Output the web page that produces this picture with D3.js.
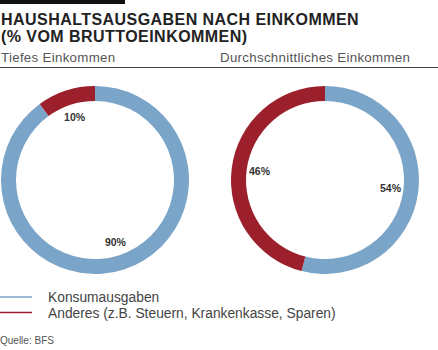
<!DOCTYPE html>
<html>
<head>
<meta charset="utf-8">
<script src="https://cdn.jsdelivr.net/npm/d3@7"></script>
<style>
  body { margin: 0; background: #fff; }
  svg text { font-family: "Liberation Sans", Arial, sans-serif; }
</style>
</head>
<body>
<div id="chart"></div>
<script>
// data
var charts = ["Tiefes Einkommen", "Durchschnittliches Einkommen"];
var categories = ["Konsumausgaben", "Anderes (z.B. Steuern, Krankenkasse, Sparen)"];
var konsum = [90, 54];
var anderes = [10, 46];
var colors = ["#7ba4c9", "#9c1f2c"];

var width = 438, height = 350;

var svg = d3.select("#chart").append("svg")
    .attr("width", width)
    .attr("height", height);

// black bar on top
svg.append("rect").attr("x", 0).attr("y", 0).attr("width", 125).attr("height", 4).attr("fill", "#111");

var title = svg.append("text")
    .attr("x", 1).attr("y", 25)
    .attr("font-size", 16).attr("font-weight", "bold").attr("fill", "#222")
    .attr("letter-spacing", 0.45);
title.append("tspan").attr("x", 1).text("HAUSHALTSAUSGABEN NACH EINKOMMEN");
title.append("tspan").attr("x", 1).attr("dy", 16.5).text("(% VOM BRUTTOEINKOMMEN)");

// panel x positions
var x = d3.scaleBand().domain(charts).range([0, 438]);

svg.selectAll(".sub").data(charts).join("text")
    .attr("class", "sub")
    .attr("x", d => x(d) + 1)
    .attr("y", 62)
    .attr("font-size", 13.3)
    .attr("letter-spacing", 0.3)
    .attr("fill", "#555")
    .text(d => d);

svg.append("line").attr("x1", 0).attr("x2", width).attr("y1", 67.5).attr("y2", 67.5)
    .attr("stroke", "#444").attr("stroke-width", 1);

var pie = d3.pie().sort(null).value(d => d.value);
var outerR = 94, innerR = 79;
var arc = d3.arc().innerRadius(innerR).outerRadius(outerR);
var labelArc = d3.arc().innerRadius(66).outerRadius(66);
var centers = [95, 325];

charts.forEach(function(c, i) {
    var slices = pie([
        {name: categories[0], value: konsum[i]},
        {name: categories[1], value: anderes[i]}
    ]);
    var g = svg.append("g").attr("transform", "translate(" + centers[i] + ",180)");
    g.selectAll("path").data(slices).join("path")
        .attr("d", arc)
        .attr("fill", (d, j) => colors[j]);
    g.selectAll("text").data(slices).join("text")
        .attr("transform", d => "translate(" + labelArc.centroid(d) + ")")
        .attr("text-anchor", "middle")
        .attr("dy", "0.35em")
        .attr("font-size", 10.5)
        .attr("font-weight", "bold")
        .attr("fill", "#333")
        .text(d => d.data.value + "%");
});

// legend
var leg = svg.selectAll(".leg").data(categories).join("g")
    .attr("class", "leg")
    .attr("transform", (d, i) => "translate(0," + (297 + i * 15.5) + ")");
leg.append("line").attr("x1", 0).attr("x2", 32)
    .attr("stroke", (d, i) => colors[i]).attr("stroke-width", 1.5);
leg.append("text").attr("x", 48).attr("y", 5)
    .attr("font-size", 13.8).attr("fill", "#444")
    .text(d => d);

svg.append("text").attr("x", 0).attr("y", 344)
    .attr("font-size", 10).attr("fill", "#555")
    .text("Quelle: BFS");
</script>
</body>
</html>
